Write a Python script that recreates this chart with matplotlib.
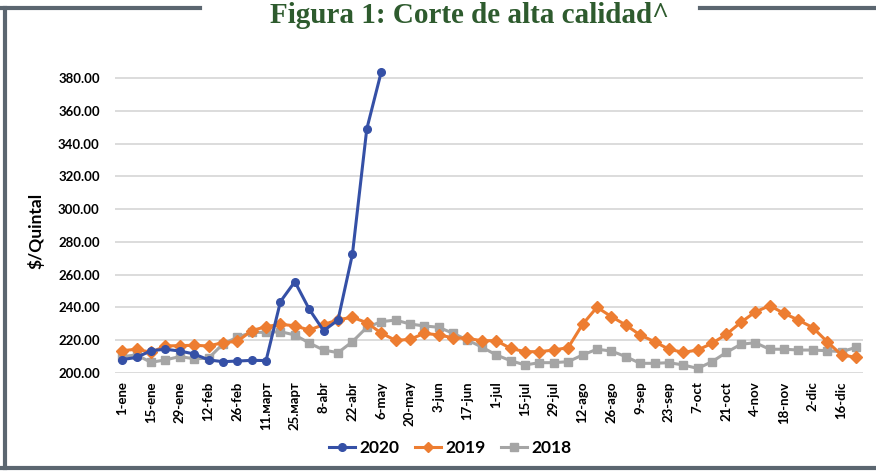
import numpy as np
import matplotlib
matplotlib.use("Agg")
import matplotlib.pyplot as plt
from matplotlib.lines import Line2D

plt.rcParams['font.family'] = ['Lato', 'DejaVu Sans']

# weekly prices, $/quintal
labels = ['1-ene', '15-ene', '29-ene', '12-feb', '26-feb', '11.март', '25.март',
          '8-abr', '22-abr', '6-may', '20-may', '3-jun', '17-jun', '1-jul',
          '15-jul', '29-jul', '12-ago', '26-ago', '9-sep', '23-sep', '7-oct',
          '21-oct', '4-nov', '18-nov', '2-dic', '16-dic']

y2020 = [208.2, 209.5, 213.6, 214.5, 213.4, 211.6, 208.0, 206.9, 207.3, 207.7,
         207.6, 243.6, 255.7, 238.9, 225.8, 232.3, 272.4, 348.9, 383.5]

y2019 = [213.6, 214.5, 212.6, 216.5, 216.7, 216.9, 216.5, 218.5, 219.3, 225.8,
         228.3, 229.7, 228.8, 226.2, 229.5, 232.5, 234.0, 230.7, 224.4, 219.9,
         220.5, 224.2, 223.2, 221.5, 221.1, 219.7, 219.7, 215.0, 213.0, 213.0,
         214.0, 215.5, 229.7, 240.1, 234.4, 229.3, 223.2, 219.1, 214.5, 212.6,
         214.0, 218.1, 223.6, 230.9, 237.2, 241.1, 236.4, 232.3, 227.7, 219.1,
         211.0, 209.6]

y2018 = [210.0, 211.0, 206.5, 208.0, 210.0, 208.7, 209.0, 217.7, 221.8, 224.8,
         224.8, 225.2, 223.2, 218.3, 214.0, 212.4, 219.1, 227.8, 231.3, 232.3,
         229.9, 228.7, 227.9, 224.2, 220.1, 215.8, 211.0, 207.5, 204.9, 206.3,
         206.3, 206.9, 211.0, 214.5, 213.4, 210.0, 205.9, 205.9, 206.3, 204.9,
         202.8, 206.9, 212.6, 217.5, 218.5, 214.5, 214.5, 214.0, 214.0, 213.6,
         213.0, 215.6]

c2020 = '#3550a6'
c2019 = '#ed7d31'
c2018 = '#a5a5a5'

fig = plt.figure(figsize=(8.76, 4.76), dpi=100)
ax = fig.add_axes([0.1313, 0.2164, 0.854, 0.637])

x = np.arange(len(y2019))
ax.plot(x, y2018, color=c2018, lw=2.2, marker='s', ms=6, zorder=3)
ax.plot(x, y2019, color=c2019, lw=2.2, marker='D', ms=6, zorder=4)
ax.plot(x[:len(y2020)], y2020, color=c2020, lw=2.2, marker='o', ms=5.5, zorder=5,
        clip_on=False)

ax.set_xlim(-0.5, 51.5)
ax.set_ylim(200, 385)
ax.set_yticks(np.arange(200, 381, 20))
ax.set_yticklabels(['%.2f' % v for v in np.arange(200, 381, 20)],
                   fontsize=9.5, fontweight='bold')
ax.set_xticks(np.arange(0, 52, 2))
ax.set_xticklabels(labels, rotation=90, fontsize=9.5, fontweight='bold')
ax.tick_params(axis='y', length=0, pad=11)
ax.tick_params(axis='x', length=0, pad=6)
ax.grid(axis='y', color='#d9d9d9', lw=1.3)
ax.set_axisbelow(True)
for s in ax.spines.values():
    s.set_visible(False)
ax.set_ylabel('$/Quintal', fontsize=12.5, fontweight='bold')
ax.yaxis.set_label_coords(-0.094, 0.47)

# frame and title
frame = '#5b6670'
fig.add_artist(Line2D([0, 200/876], [1 - 8/476]*2, color=frame, lw=3))
fig.add_artist(Line2D([700/876, 1], [1 - 8/476]*2, color=frame, lw=3))
fig.add_artist(Line2D([5/876]*2, [1 - 8/476, 1 - 468/476], color=frame, lw=3))
fig.add_artist(Line2D([0, 1], [1 - 468/476]*2, color=frame, lw=3))
fig.text(470/876, 1 - 23/476, 'Figura 1: Corte de alta calidad^', ha='center',
         va='baseline', fontsize=21, fontweight='bold', color='#2e5b2e',
         family=['Liberation Serif', 'DejaVu Serif'])

handles = [Line2D([], [], color=c2020, lw=2.2, marker='o', ms=5.5),
           Line2D([], [], color=c2019, lw=2.2, marker='D', ms=5.5),
           Line2D([], [], color=c2018, lw=2.2, marker='s', ms=5.5)]
fig.legend(handles, ['2020', '2019', '2018'], loc='center', ncol=3,
           bbox_to_anchor=(0.514, 1 - 448/476), frameon=False,
           prop={'weight': 'bold', 'size': 12.5}, handlelength=1.5,
           columnspacing=0.9, handletextpad=0.25)

fig.savefig('out.png', dpi=100)
